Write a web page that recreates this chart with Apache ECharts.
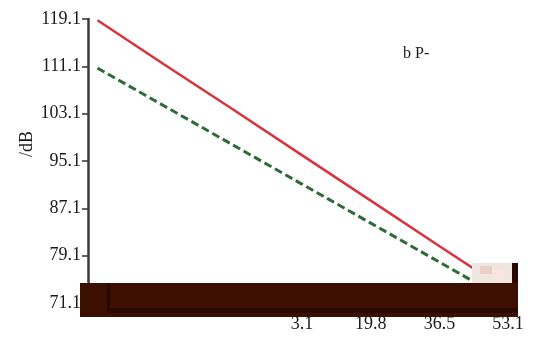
<!DOCTYPE html>
<html>
<head>
<meta charset="utf-8">
<script src="https://cdn.jsdelivr.net/npm/echarts@6/dist/echarts.min.js"></script>
<style>html,body{margin:0;padding:0;background:#fff}#c{width:536px;height:338px}</style>
</head>
<body>
<div id="c"></div>
<script>
const xValues = [-46.5, -30.3, -13.6, 3.1, 19.8, 36.5, 53.1];
const redSeries = [118.9, 111.4, 103.8, 96.1, 88.4, 80.7, 73.1];
const greenSeries = [110.8, 104.4, 97.8, 91.2, 84.6, 78.0, 71.4];
const xTickLabels = [3.1, 19.8, 36.5, 53.1];
const yTickLabels = [71.1, 79.1, 87.1, 95.1, 103.1, 111.1, 119.1];
const yName = '/dB';
const noteText = 'b P-';

const chart = echarts.init(document.getElementById('c'), null, {renderer: 'canvas'});
const font = 'Liberation Serif';
chart.setOption({
  animation: false,
  backgroundColor: '#fff',
  grid: {left: 88, right: 28, top: 19, bottom: 35},
  xAxis: {
    type: 'value', min: -48.8, max: 53.1,
    axisLine: {show: true, onZero: false, lineStyle: {color: '#333', width: 2}},
    axisTick: {show: true, customValues: xTickLabels, lineStyle: {color: '#333'}},
    axisLabel: {customValues: xTickLabels, fontFamily: font, fontSize: 18, color: '#1a1a1a', margin: 12,
      formatter: v => v.toFixed(1)},
    splitLine: {show: false}
  },
  yAxis: {
    type: 'value', min: 71.1, max: 119.1,
    axisLine: {show: true, onZero: false, lineStyle: {color: '#3a3a3a', width: 2.5}},
    axisTick: {show: true, customValues: yTickLabels, length: 6, lineStyle: {color: '#333', width: 1.5}},
    axisLabel: {customValues: yTickLabels, fontFamily: font, fontSize: 18, color: '#1a1a1a', margin: 7,
      formatter: v => v.toFixed(1)},
    splitLine: {show: false}
  },
  series: [
    {type: 'line', data: xValues.map((x, i) => [x, redSeries[i]]), symbol: 'none',
      lineStyle: {color: '#d8333f', width: 2.5}},
    {type: 'line', data: xValues.map((x, i) => [x, greenSeries[i]]), symbol: 'none',
      lineStyle: {color: '#2f6a3a', width: 3, type: [8, 4]}}
  ],
  graphic: [
    {type: 'text', left: 403, top: 46, style: {text: noteText, font: '16px "Liberation Serif"', fill: '#1a1a1a'}},
    {type: 'text', x: 27, y: 144, rotation: Math.PI / 2,
      style: {text: yName, font: '18px "Liberation Serif"', fill: '#1a1a1a', align: 'center', verticalAlign: 'middle'}},
    {type: 'rect', shape: {x: 472, y: 263, width: 40, height: 20}, style: {fill: '#efe6e0'}, z: 100},
    {type: 'rect', shape: {x: 480, y: 266, width: 12, height: 8}, style: {fill: '#e8cfc8'}, z: 101},
    {type: 'rect', shape: {x: 494, y: 270, width: 10, height: 10}, style: {fill: '#fbe3e3'}, z: 101},
    {type: 'rect', shape: {x: 512, y: 263, width: 6, height: 54}, style: {fill: '#2a0800'}, z: 102},
    {type: 'rect', shape: {x: 80, y: 283, width: 438, height: 34}, style: {fill: '#3c0f00'}, z: 102},
    {type: 'rect', shape: {x: 107, y: 308, width: 411, height: 5}, style: {fill: '#2a0700'}, z: 103},
    {type: 'rect', shape: {x: 107, y: 283, width: 3, height: 30}, style: {fill: '#2a0700'}, z: 103}
  ]
});
</script>
</body>
</html>
